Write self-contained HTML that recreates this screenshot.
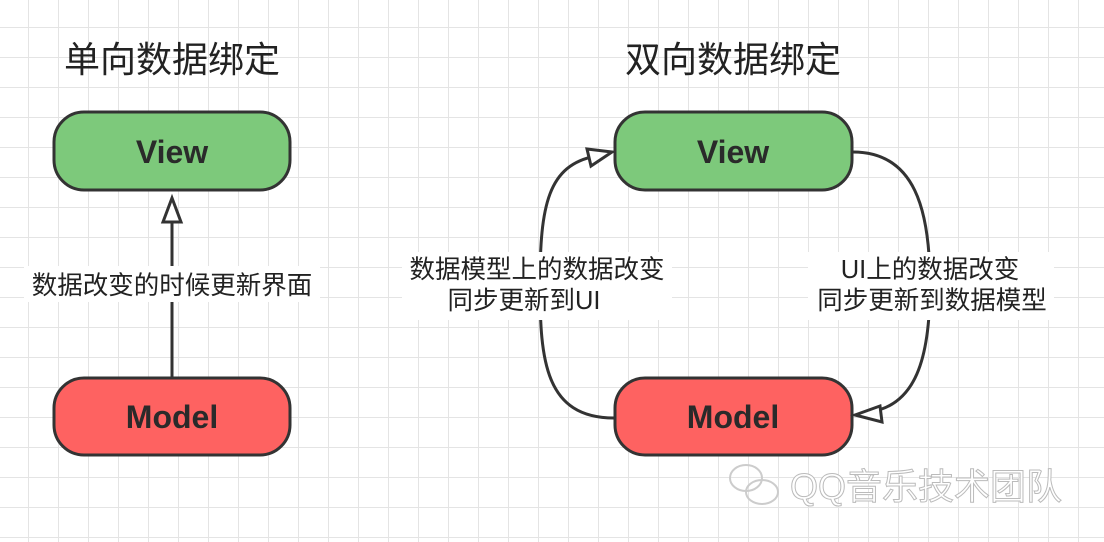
<!DOCTYPE html>
<html><head><meta charset="utf-8"><style>
html,body{margin:0;padding:0;}
body{width:1104px;height:542px;overflow:hidden;background:#fff;
background-image:linear-gradient(to right,#e4e4e4 1px,transparent 1px),linear-gradient(to bottom,#e4e4e4 1px,transparent 1px);
background-size:30px 30px;background-position:28px 27px;}
svg{position:absolute;left:0;top:0;}
</style></head><body>
<svg width="1104" height="542" viewBox="0 0 1104 542" xmlns="http://www.w3.org/2000/svg" font-family="'Liberation Sans','Noto Sans CJK SC',sans-serif">
<g font-size="36" fill="#222" text-anchor="middle">
<text x="172" y="72">单向数据绑定</text>
<text x="733" y="72">双向数据绑定</text>
</g>
<g stroke="#333" stroke-width="3">
<rect x="54" y="112" width="236" height="78" rx="30" fill="#7dc97b"/>
<rect x="54" y="378" width="236" height="77" rx="30" fill="#fe6261"/>
<rect x="615" y="112" width="237" height="78" rx="30" fill="#7dc97b"/>
<rect x="615" y="378" width="237" height="77" rx="30" fill="#fe6261"/>
</g>
<g font-size="32" font-weight="bold" fill="#2a2a2a" text-anchor="middle">
<text x="172" y="163">View</text>
<text x="172" y="428">Model</text>
<text x="733" y="163">View</text>
<text x="733" y="428">Model</text>
</g>
<g stroke="#333" stroke-width="3" fill="none">
<line x1="172" y1="377" x2="172" y2="222"/>
<path d="M614 418 C545 418 540 360 540 285 C540 205 548 165 596 156"/>
<path d="M853 152 C915 152 930 210 930 285 C930 360 915 405 870 412"/>
</g>
<g stroke="#333" stroke-width="3" fill="#fff">
<polygon points="172,198 163,222 181,222"/>
<polygon points="612,152 587,149 591,166"/>
<polygon points="855,415 880,406 882,422"/>
</g>
<g fill="#fff">
<rect x="24" y="266" width="296" height="36"/>
<rect x="402" y="252" width="270" height="68"/>
<rect x="808" y="252" width="246" height="68"/>
</g>
<g font-size="25.5" fill="#222" text-anchor="middle">
<text x="172" y="294">数据改变的时候更新界面</text>
<text x="537" y="278">数据模型上的数据改变</text>
<text x="524" y="309">同步更新到UI</text>
<text x="930" y="278">UI上的数据改变</text>
<text x="932" y="309">同步更新到数据模型</text>
</g>
<g fill="none" stroke="#ccc" stroke-width="2">
<ellipse cx="746" cy="478" rx="16" ry="13"/>
<ellipse cx="762" cy="492" rx="16" ry="12"/>
</g>
<text x="790" y="499" font-size="36" fill="#fff" stroke="#bbb" stroke-width="1">QQ音乐技术团队</text>
</svg>
</body></html>
